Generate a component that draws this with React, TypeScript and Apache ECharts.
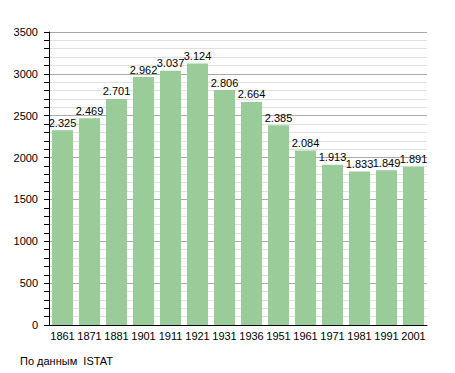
import React, { useEffect, useRef } from "react";
import * as echarts from "echarts";

const categories = ["1861","1871","1881","1901","1911","1921","1931","1936","1951","1961","1971","1981","1991","2001"];
const population = [2325,2469,2701,2962,3037,3124,2806,2664,2385,2084,1913,1833,1849,1891];
const sourceText = "По данным  ISTAT";

const fmt = (v: number) => {
  const s = String(v);
  return s.length > 3 ? s.slice(0, s.length - 3) + "." + s.slice(s.length - 3) : s;
};

export default function App() {
  const ref = useRef<HTMLDivElement>(null);
  useEffect(() => {
    const chart = echarts.init(ref.current!, undefined, { renderer: "svg" });
    chart.setOption({
      animation: false,
      textStyle: { fontFamily: "Liberation Sans, Arial, sans-serif" },
      grid: { left: 49, right: 28, top: 32, bottom: 48, containLabel: false },
      xAxis: {
        type: "category",
        data: categories,
        axisLine: { lineStyle: { color: "#000", width: 1 } },
        axisTick: { show: false },
        axisLabel: { color: "#000", fontSize: 11, margin: 5, interval: 0 },
      },
      yAxis: {
        type: "value",
        min: 0,
        max: 3500,
        interval: 500,
        axisLine: { show: true, lineStyle: { color: "#000", width: 1 } },
        axisTick: { show: true, length: 5, lineStyle: { color: "#000" } },
        minorTick: { show: true, splitNumber: 5, length: 5, lineStyle: { color: "#000" } },
        axisLabel: { color: "#000", fontSize: 11, margin: 11, formatter: (v: number) => String(v) },
        splitLine: { show: true, lineStyle: { color: "#aaaaaa", width: 1 } },
        minorSplitLine: { show: true, lineStyle: { color: "#e0e0e0", width: 1 } },
      },
      series: [
        {
          type: "bar",
          data: population,
          barCategoryGap: "22%",
          itemStyle: { color: "#99cc99" },
          label: {
            show: true,
            position: "top",
            distance: 2,
            color: "#000",
            fontSize: 11,
            formatter: (p: any) => fmt(p.value),
          },
        },
      ],
      graphic: [
        {
          type: "text",
          left: 20,
          top: 355,
          style: { text: sourceText, fill: "#000", fontSize: 11, fontFamily: "Liberation Sans, Arial, sans-serif" },
        },
      ],
    });
    return () => chart.dispose();
  }, []);
  return <div ref={ref} style={{ width: 455, height: 373, position: "absolute", left: 0, top: 0 }} />;
}
